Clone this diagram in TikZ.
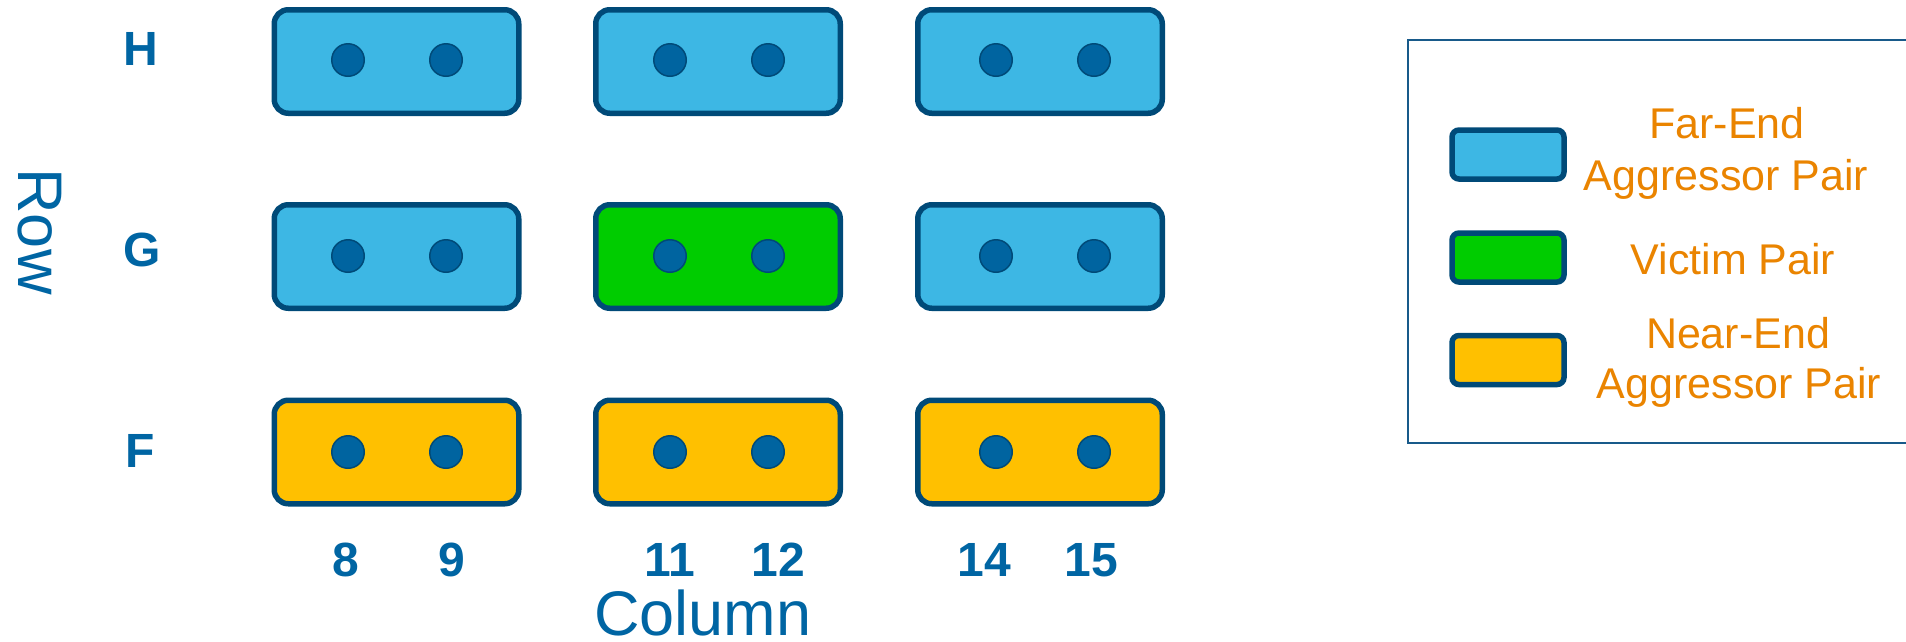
\documentclass[tikz,border=0pt]{standalone}
\usepackage{fontspec}
\setmainfont{Liberation Sans}
\definecolor{fillblue}{HTML}{3DB7E4}
\definecolor{edgeblue}{HTML}{004A78}
\definecolor{dotblue}{HTML}{0064A0}
\definecolor{labelblue}{HTML}{0065A3}
\definecolor{victimgreen}{HTML}{00CC00}
\definecolor{nearyellow}{HTML}{FFC000}
\definecolor{legendorange}{HTML}{EA8400}
\definecolor{legendline}{HTML}{185A8A}
\tikzset{
  pairbox/.style={draw=edgeblue, line width=5.5pt, rounded corners=14pt,
    minimum width=244.5pt, minimum height=103.5pt, inner sep=0pt},
  swatch/.style={draw=edgeblue, line width=5.5pt, rounded corners=7pt,
    minimum width=112pt, minimum height=49pt, inner sep=0pt},
  pindot/.style={circle, draw=edgeblue, line width=1.5pt, fill=dotblue,
    minimum size=32.5pt, inner sep=0pt},
  rowlab/.style={text=labelblue, font=\fontsize{48}{52}\selectfont\bfseries, inner sep=0pt},
  collab/.style={text=labelblue, font=\fontsize{48}{52}\selectfont\bfseries, inner sep=0pt},
  axislab/.style={text=labelblue, font=\fontsize{63}{70}\selectfont, inner sep=0pt},
  legtext/.style={text=legendorange, font=\fontsize{43}{50}\selectfont, inner sep=0pt, anchor=base},
}
\begin{document}
\begin{tikzpicture}[x=1pt,y=-1pt]
\useasboundingbox (0,0) rectangle (1906,641);
% boxes
\node[pairbox, fill=fillblue] (h1) at (396.5,61.5) {};
\node[pairbox, fill=fillblue] (h2) at (718,61.5) {};
\node[pairbox, fill=fillblue] (h3) at (1040,61.5) {};
\node[pairbox, fill=fillblue] (g1) at (396.5,256.5) {};
\node[pairbox, fill=victimgreen] (g2) at (718,256.5) {};
\node[pairbox, fill=fillblue] (g3) at (1040,256.5) {};
\node[pairbox, fill=nearyellow] (f1) at (396.5,452) {};
\node[pairbox, fill=nearyellow] (f2) at (718,452) {};
\node[pairbox, fill=nearyellow] (f3) at (1040,452) {};
% pins
\foreach \r/\y in {h/60,g/256,f/452}{
  \node[pindot] (\r1a) at (348,\y) {};
  \node[pindot] (\r1b) at (446,\y) {};
  \node[pindot] (\r2a) at (670,\y) {};
  \node[pindot] (\r2b) at (768,\y) {};
  \node[pindot] (\r3a) at (996,\y) {};
  \node[pindot] (\r3b) at (1094,\y) {};
}
% row labels
\node[rowlab] (labH) at (141,49) {H};
\node[rowlab] (labG) at (142,250) {G};
\node[rowlab] (labF) at (140,451) {F};
\node[axislab, rotate=-90, anchor=base] (rowtitle) at (19,231.5) {Row};
% column labels
\node[collab] (c8) at (346,560) {8};
\node[collab] (c9) at (452,560) {9};
\node[collab] (c11) at (670,560) {11};
\node[collab] (c12) at (778,560) {12};
\node[collab] (c14) at (984,560) {14};
\node[collab] (c15) at (1091,560) {15};
\node[axislab, anchor=base] (coltitle) at (703,635) {Column};
% legend
\draw[legendline, line width=2pt] (1906,40) -| (1408,443) -- (1906,443);
\node[swatch, fill=fillblue] (lfar) at (1508,154.5) {};
\node[swatch, fill=victimgreen] (lvic) at (1508,257.5) {};
\node[swatch, fill=nearyellow] (lnear) at (1508,360) {};
\node[legtext] (tfar1) at (1727,138) {Far-End};
\node[legtext] (tfar2) at (1726,190) {Aggressor Pair};
\node[legtext] (tvic) at (1733,274) {Victim Pair};
\node[legtext] (tnear1) at (1738,348) {Near-End};
\node[legtext] (tnear2) at (1739,398) {Aggressor Pair};
\end{tikzpicture}
\end{document}
